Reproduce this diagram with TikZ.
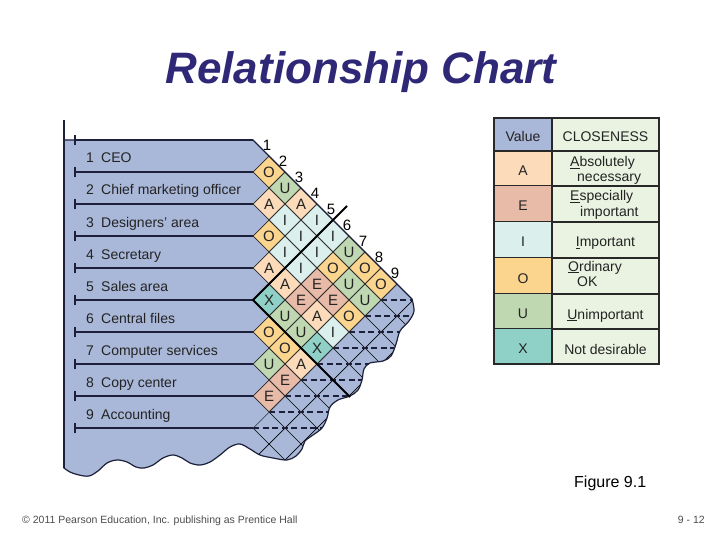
\documentclass[tikz,border=0pt]{standalone}
\usepackage{fontspec}
\setmainfont{Liberation Sans}
\usetikzlibrary{shapes.geometric}
\definecolor{panel}{RGB}{169,183,216}
\definecolor{navy}{RGB}{28,32,58}
\definecolor{dgray}{RGB}{40,40,40}
\definecolor{txt}{RGB}{35,35,35}
\definecolor{cA}{RGB}{252,219,187}
\definecolor{cE}{RGB}{232,187,168}
\definecolor{cI}{RGB}{219,240,237}
\definecolor{cO}{RGB}{251,212,142}
\definecolor{cU}{RGB}{192,216,178}
\definecolor{cX}{RGB}{143,208,199}
\definecolor{lgreen}{RGB}{234,243,225}
\definecolor{titlec}{RGB}{46,40,118}
\newcommand\fsz{\fontsize{14}{16}\selectfont}
\newcommand\dsz{\fontsize{15}{17}\selectfont}
\newcommand\panelshape{(64,140) -- (253,140) -- (412,299) -- plot[smooth, tension=0.55] coordinates {(412,299) (414,311) (409,321) (400,331) (396,344) (391,356) (383,361) (370,363) (364,369) (362,380) (358,390) (350,396) (338,400) (330,407) (327,418) (322,428) (313,435) (305,441) (302,449) (296,456) (287,460) (273,458) (260,455) (250,449) (240,444) (230,447) (220,455) (210,462) (200,465) (190,463) (182,458) (173,455) (163,458) (153,465) (144,468) (136,467) (127,462) (117,460) (107,463) (98,471) (89,476) (79,475) (70,472) (64,468)} -- cycle}
\begin{document}
\begin{tikzpicture}[x=1pt,y=-1pt,
  dia/.style={diamond, aspect=1, minimum width=32pt, minimum height=32pt, inner sep=0pt, draw=dgray, line width=0.7pt, font=\dsz, text=txt},
  rowline/.style={navy, line width=1.9pt},
  lat/.style={black, line width=0.7pt},
  dline/.style={navy, line width=1.4pt, dash pattern=on 6pt off 3.5pt},
  thk/.style={black, line width=1.9pt},
  lbl/.style={font=\fsz, text=txt, inner sep=0pt},
  tbl/.style={dgray, line width=1.3pt},
  tblout/.style={dgray, line width=2.2pt}]
\useasboundingbox (0,0) rectangle (720,540);

% title
\node[anchor=base, font=\fontsize{44}{50}\selectfont\bfseries\itshape, text=titlec, inner sep=0pt] (title) at (361,84) {Relationship Chart};

% panel
\fill[panel] \panelshape;

% lower blank lattice
\begin{scope}
  \clip \panelshape;
  \clip (253,428) -- (397,284) -- (530,284) -- (530,530) -- (253,530) -- cycle;
  \foreach \k in {0,...,14} \draw[lat] ({313-32*\k},200) -- ({633-32*\k},520);
  \foreach \k in {0,...,8} \draw[lat] ({481+32*\k},200) -- ({161+32*\k},520);
  \foreach \m in {0,...,8} \draw[dline] ({381-16*\m},{300+16*\m}) -- (530,{300+16*\m});
\end{scope}

% diamonds
\foreach \i/\j/\L in {1/2/O,1/3/U,1/4/A,1/5/I,1/6/I,1/7/U,1/8/O,1/9/O,
  2/3/A,2/4/I,2/5/I,2/6/I,2/7/O,2/8/U,2/9/U,
  3/4/O,3/5/I,3/6/I,3/7/E,3/8/E,3/9/O,
  4/5/A,4/6/A,4/7/E,4/8/A,4/9/I,
  5/6/X,5/7/U,5/8/U,5/9/X,
  6/7/O,6/8/O,6/9/A,
  7/8/U,7/9/E,
  8/9/E}
  \node[dia, fill=c\L] (d\i\j) at ({253+16*(\j-\i)},{124+16*(\i+\j)}) {\raisebox{-2pt}{\L}};

% panel outline
\draw[navy, line width=1.2pt] \panelshape;

% row lines with ticks
\foreach \k in {0,...,9} {
  \draw[rowline] (75,{140+32*\k}) -- (253,{140+32*\k});
  \draw[rowline] (75,{135+32*\k}) -- (75,{145+32*\k});
}
% left vertical line
\draw[navy, line width=2.4pt] (64,120) -- (64,468);

% highlight lines for department 5
\coordinate (p5) at (253,300);
\coordinate (t5) at (347,206);
\coordinate (b5) at (350,397);
\draw[thk] (t5) -- (p5) -- (b5);

% diagonal numbers
\foreach \k in {1,...,9} \node[lbl, font=\dsz, text=black] (n\k) at ({251+16*\k},{129+16*\k}) {\k};

% row labels
\foreach \n/\t in {1/CEO, 2/Chief marketing officer, 3/Designers’ area, 4/Secretary, 5/Sales area, 6/Central files, 7/Computer services, 8/Copy center, 9/Accounting}
  \node[lbl, anchor=base west] (lab\n) at (86,{131+32*\n}) {\makebox[15pt][l]{\n}\t};

% legend
\fill[panel] (494,118) rectangle (552,151);
\fill[lgreen] (552,118) rectangle (659,364);
\foreach \L/\yt/\yb in {A/151/186, E/186/222, I/222/258, O/258/294, U/294/329, X/329/364} {
  \fill[c\L] (494,\yt) rectangle (552,\yb);
  \draw[tbl] (494,\yb) -- (659,\yb);
  \node[lbl, anchor=base] (lg\L) at (523,{(\yt+\yb)/2+7}) {\L};
}
\draw[tbl] (494,151) -- (659,151);
\draw[tbl] (552,118) -- (552,364);
\draw[tblout] (494,118) rectangle (659,364);
\node[lbl, anchor=base] (hv) at (523,142) {Value};
\node[lbl, anchor=base] (hc) at (605.5,142) {CLOSENESS};
\node[lbl, anchor=base west] (tA1) at (570,167) {\underline{A}bsolutely};
\node[lbl, anchor=base west] (tA2) at (577,182) {necessary};
\node[lbl, anchor=base west] (tE1) at (570,201) {\underline{E}specially};
\node[lbl, anchor=base west] (tE2) at (580,216) {important};
\node[lbl, anchor=base] (tI) at (605.5,247) {\underline{I}mportant};
\node[lbl, anchor=base west] (tO1) at (568,271) {\underline{O}rdinary};
\node[lbl, anchor=base west] (tO2) at (577,286) {OK};
\node[lbl, anchor=base] (tU) at (605.5,319) {\underline{U}nimportant};
\node[lbl, anchor=base] (tX) at (605.5,354) {Not desirable};

% captions
\node[anchor=base west, inner sep=0pt, font=\fontsize{16}{18}\selectfont] (fig) at (574,487) {Figure 9.1};
\node[anchor=base west, inner sep=0pt, font=\fontsize{10.5}{12}\selectfont, text=black!70] (copy) at (22,523) {© 2011 Pearson Education, Inc. publishing as Prentice Hall};
\node[anchor=base east, inner sep=0pt, font=\fontsize{10.5}{12}\selectfont, text=black!70] (pg) at (705,523) {9 - 12};
\end{tikzpicture}
\end{document}
